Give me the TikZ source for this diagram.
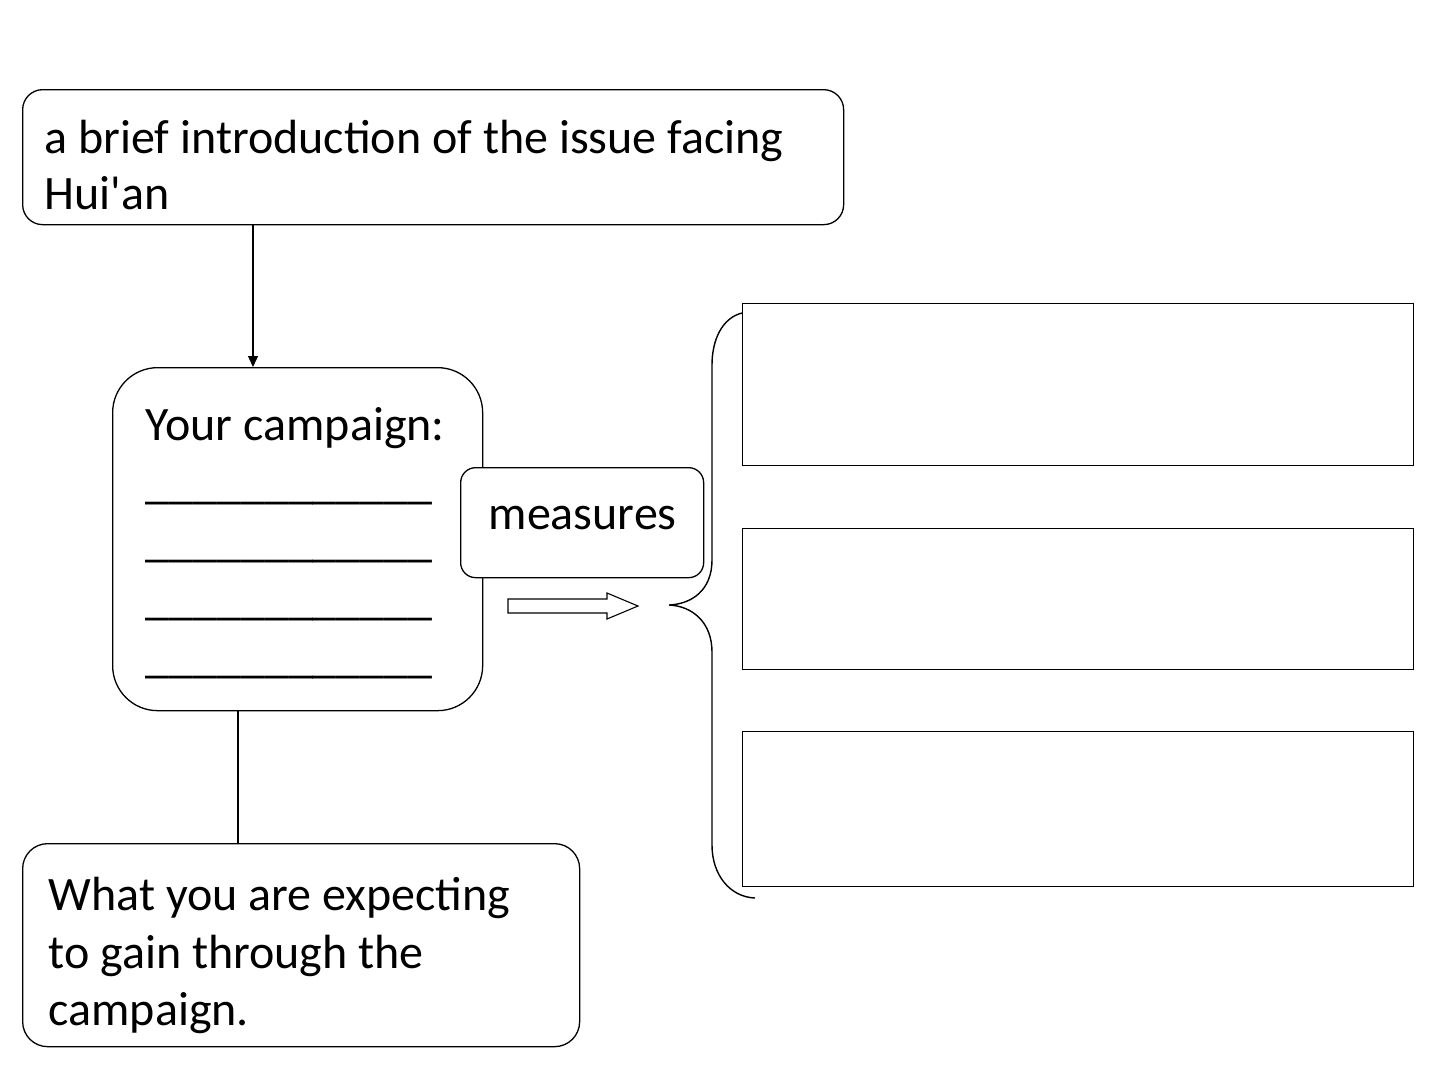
\documentclass[tikz,border=0pt]{standalone}
\usepackage{fontspec}
\setmainfont{Carlito}[Ligatures=TeXOff]
\usetikzlibrary{arrows.meta}
\begin{document}
\begin{tikzpicture}[x=1pt,y=-1pt, line width=1.3pt,
 rbox/.style={draw, rounded corners=#1, anchor=north west, inner sep=0pt},
 sbox/.style={draw, anchor=north west, inner sep=0pt},
 txt/.style={anchor=base west, inner sep=0pt, font=\fontsize{48}{57}\selectfont},
 conn/.style={line width=1.3pt},
]
\useasboundingbox[fill=white] (0,0) rectangle (1440,1080);
% intro box
\node[rbox=20pt, minimum width=821pt, minimum height=135pt] (intro) at (22,89) {};
\node[txt] (intro1) at (44,153) {a brief introduction of the issue facing};
\node[txt] (intro2) at (44,209) {Hui'an};
% campaign box
\node[rbox=45pt, minimum width=370pt, minimum height=343pt] (camp) at (112,367) {};
\node[txt] (camp1) at (145,440) {Your campaign:};
\node[txt] (camp2) at (145,498) {\_\_\_\_\_\_\_\_\_\_\_\_};
\node[txt] (camp3) at (145,556) {\_\_\_\_\_\_\_\_\_\_\_\_};
\node[txt] (camp4) at (145,614) {\_\_\_\_\_\_\_\_\_\_\_\_};
\node[txt] (camp5) at (145,672) {\_\_\_\_\_\_\_\_\_\_\_\_};
% measures box
\node[rbox=15pt, fill=white, minimum width=243pt, minimum height=110pt] (meas) at (460,467) {};
\node[txt] (meastext) at (488,529) {measures};
% expectation box
\node[rbox=25pt, minimum width=557pt, minimum height=203pt] (expect) at (22,843) {};
\node[txt] (exp1) at (48,910) {What you are expecting};
\node[txt] (exp2) at (48,968) {to gain through the};
\node[txt] (exp3) at (48,1025) {campaign.};
% right boxes
\node[sbox, minimum width=671pt, minimum height=162pt] (r1) at (742,303) {};
\node[sbox, minimum width=671pt, minimum height=141pt] (r2) at (742,528) {};
\node[sbox, minimum width=671pt, minimum height=155pt] (r3) at (742,731) {};
% connectors
\draw[conn, -{Triangle[length=11pt,width=10pt]}] (253,0 |- intro.south) -- (253,0 |- camp.north);
\draw[conn] (238,0 |- camp.south) -- (238,0 |- expect.north);
% block arrow
\draw[line width=1.1pt] (508,599) -- (607,599) -- (607,593) -- (638,606) -- (607,619) -- (607,613) -- (508,613) -- cycle;
% brace
\draw[line width=1.4pt] (742,313) .. controls (722,318) and (712,340) .. (712,365) -- (712,560)
  .. controls (712,590) and (692,604) .. (669,605)
  .. controls (692,606) and (712,622) .. (712,652) -- (712,845)
  .. controls (712,875) and (730,897) .. (755,898);
\end{tikzpicture}
\end{document}
